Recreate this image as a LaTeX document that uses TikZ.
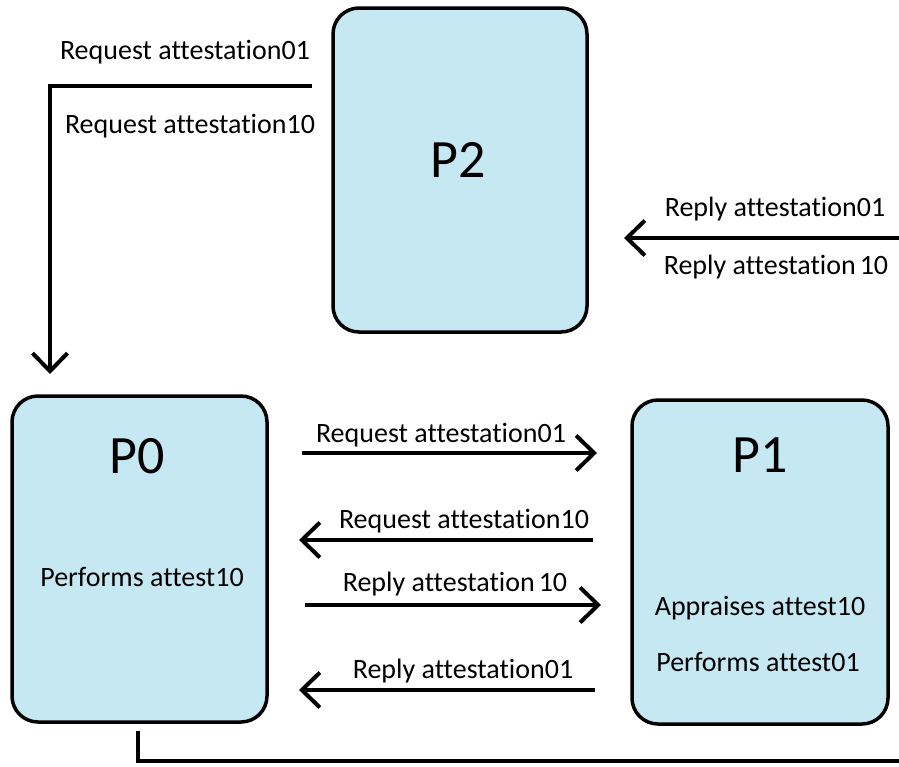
\documentclass[tikz,border=0pt]{standalone}
\usepackage{fontspec}
\setmainfont{Carlito}[Ligatures=NoCommon]
\usetikzlibrary{arrows.meta}
\definecolor{boxfill}{RGB}{197,232,242}
\tikzset{
  proc/.style={draw=black, line width=3.5pt, fill=boxfill, rounded corners=26pt, inner sep=0pt},
  msg/.style={line width=4pt, -{Straight Barb[length=18pt,width=35pt,line width=4pt]}},
  wire/.style={line width=4pt},
  lbl/.style={font=\fontsize{28}{32}\selectfont, inner sep=0pt},
  title/.style={font=\fontsize{54}{60}\selectfont, inner sep=0pt},
  note/.style={font=\fontsize{28}{32}\selectfont, inner sep=0pt}
}
\begin{document}
\begin{tikzpicture}[x=1pt,y=-1pt]
\useasboundingbox (0,0) rectangle (899,766);

% process boxes
\node[proc, minimum width=254pt, minimum height=324pt] (P2) at (460,170) {};
\node[proc, minimum width=255pt, minimum height=326pt] (P0) at (139.5,559) {};
\node[proc, minimum width=256pt, minimum height=324pt] (P1) at (760,562) {};

\node[title] (t2) at (458,160) {P2};
\node[title] (t0) at (137,456) {P0};
\node[title] (t1) at (760,455) {P1};

\node[note] (n0) at (142,577) {Performs attest10};
\node[note] (n1a) at (760,608) {Appraises attest10};
\node[note] (n1b) at (758,662) {Performs attest01};

% request from P2 down to P0
\coordinate (a2) at (312,86);
\coordinate (ak) at (50,86);
\coordinate (a0) at (50,374);
\draw[msg] (a2) -- (ak) -- (a0);
\node[lbl] (l1) at (185,52) {Request attestation01};
\node[lbl] (l2) at (190,126) {Request attestation10};

% reply coming in to P2 from the right
\coordinate (r1) at (899,238);
\coordinate (r2) at (624,238);
\draw[msg] (r1) -- (r2);
\node[lbl] (l3) at (775,209) {Reply attestation01};
\node[lbl] (l4) at (776,267) {Reply attestation\kern4pt 10};

% exchanges between P0 and P1
\coordinate (m1a) at (302,453);
\coordinate (m1b) at (597,453);
\draw[msg] (m1a) -- (m1b);
\node[lbl] (l5) at (441,435) {Request attestation01};

\coordinate (m2a) at (593,540);
\coordinate (m2b) at (299,540);
\draw[msg] (m2a) -- (m2b);
\node[lbl] (l6) at (464,521) {Request attestation10};

\coordinate (m3a) at (305,605);
\coordinate (m3b) at (601,605);
\draw[msg] (m3a) -- (m3b);
\node[lbl] (l7) at (455,584) {Reply attestation\kern4pt 10};

\coordinate (m4a) at (595,690);
\coordinate (m4b) at (299,690);
\draw[msg] (m4a) -- (m4b);
\node[lbl] (l8) at (463,671) {Reply attestation01};

% line leaving P0 along the bottom
\coordinate (b0) at (138,731);
\coordinate (b1) at (138,761);
\coordinate (b2) at (899,761);
\draw[wire] (b0) -- (b1) -- (b2);
\end{tikzpicture}
\end{document}
